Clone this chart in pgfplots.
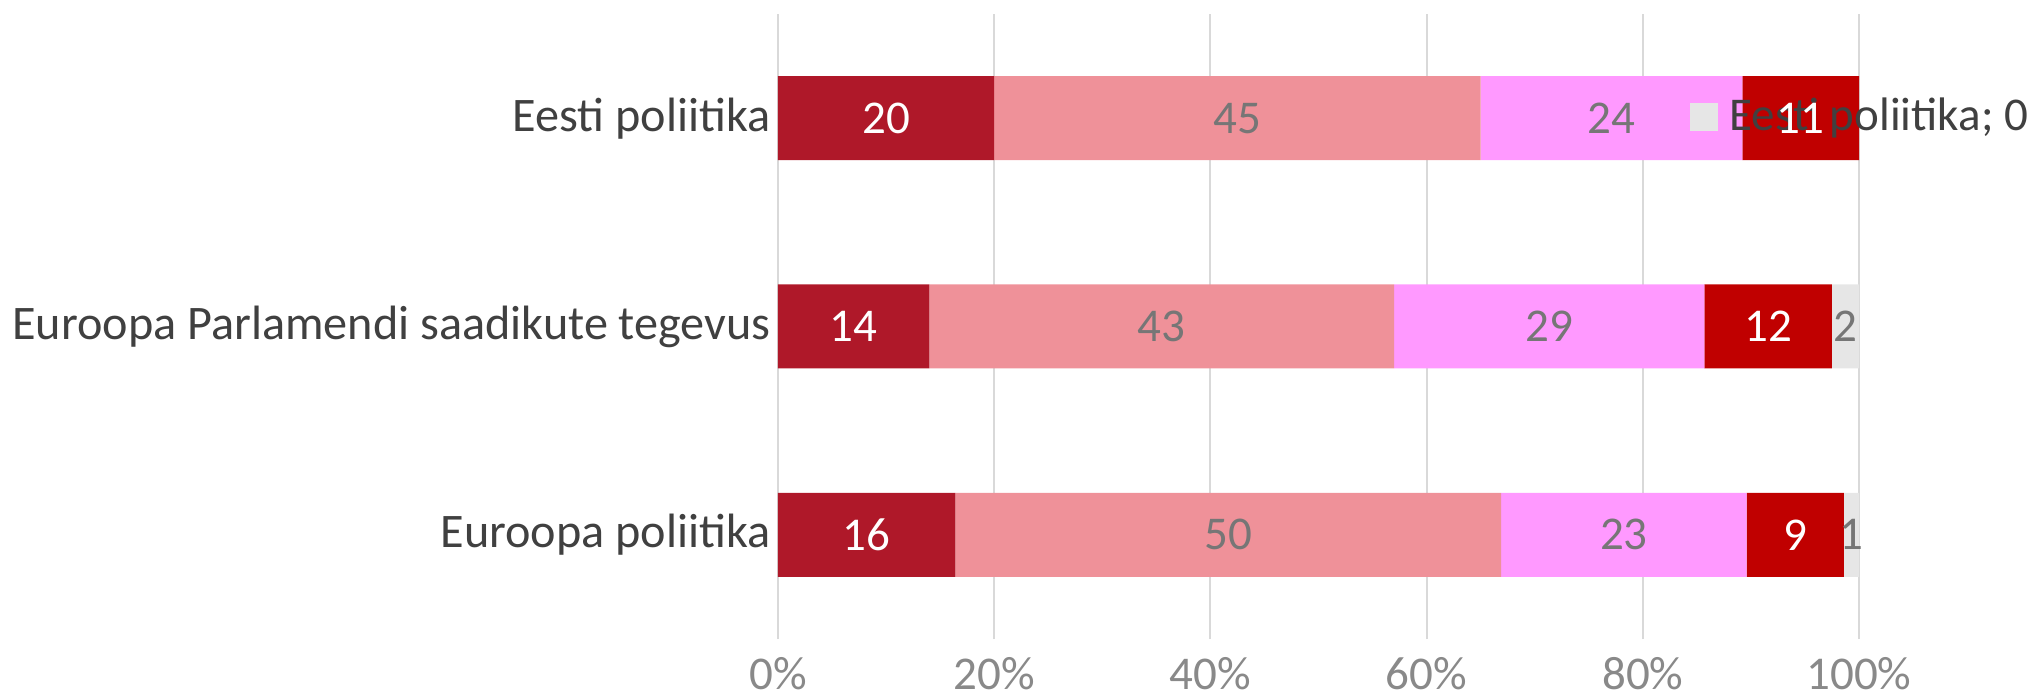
\documentclass[border=0pt]{standalone}
\usepackage{pgfplots}
\pgfplotsset{compat=1.18}
\usepackage{fontspec}
\setmainfont{Carlito}

\definecolor{serA}{HTML}{AF1829}
\definecolor{serB}{HTML}{EF9199}
\definecolor{serC}{HTML}{FF99FF}
\definecolor{serD}{HTML}{C00000}
\definecolor{serE}{HTML}{E6E6E6}
\definecolor{lblgray}{HTML}{767676}
\definecolor{catgray}{HTML}{404040}
\definecolor{tickgray}{HTML}{898989}
\definecolor{gridgray}{HTML}{D9D9D9}

\newcommand{\chartfont}{\fontsize{23.5bp}{28bp}\selectfont}
\newcommand{\catfont}{\fontsize{24.1bp}{28bp}\selectfont}
% label of the zero segment, with its legend key, as Excel drew it
\protected\def\zerolbl{\textcolor{serE}{\rule{14bp}{14bp}}\hspace{6bp}\textcolor{catgray}{Eesti poliitika; 0}}

\begin{document}
\begin{tikzpicture}
\path[use as bounding box] (-389bp,-29bp) rectangle (631.5bp,319.5bp);
\begin{axis}[
    at={(0,0)}, anchor=south west,
    scale only axis,
    width=540.5bp, height=312.5bp,
    xbar stacked,
    bar width=42bp,
    xmin=0, xmax=100,
    ymin=-0.5, ymax=2.5,
    xtick={0,20,...,100},
    xticklabels={0\%,20\%,40\%,60\%,80\%,100\%},
    ytick={0,1,2},
    yticklabels={Euroopa poliitika,Euroopa Parlamendi saadikute tegevus,Eesti poliitika},
    xticklabel style={font=\chartfont, text=tickgray, anchor=base, yshift=-25bp},
    yticklabel style={font=\catfont, text=catgray, anchor=east, inner sep=0pt, xshift=-3.5bp},
    major tick length=0pt,
    axis line style={draw=none},
    xmajorgrids,
    major grid style={gridgray, line width=1bp},
    clip=false,
    point meta=explicit symbolic,
    nodes near coords,
    every node near coord/.append style={font=\chartfont, anchor=center},
]
\addplot[fill=serA, draw=none, every node near coord/.append style={text=white}]
    coordinates {(16.4,0) [16] (14,1) [14] (20,2) [20]};
\addplot[fill=serB, draw=none, every node near coord/.append style={text=lblgray}]
    coordinates {(50.5,0) [50] (43,1) [43] (45,2) [45]};
\addplot[fill=serC, draw=none, every node near coord/.append style={text=lblgray}]
    coordinates {(22.7,0) [23] (28.7,1) [29] (24.2,2) [24]};
\addplot[fill=serD, draw=none, every node near coord/.append style={text=white}]
    coordinates {(9.0,0) [9] (11.8,1) [12] (10.8,2) [11]};
\addplot[fill=serE, draw=none, every node near coord/.append style={text=lblgray}]
    coordinates {(1.4,0) [1] (2.5,1) [2] (0.001,2) [\zerolbl]};
\end{axis}
\end{tikzpicture}
\end{document}
